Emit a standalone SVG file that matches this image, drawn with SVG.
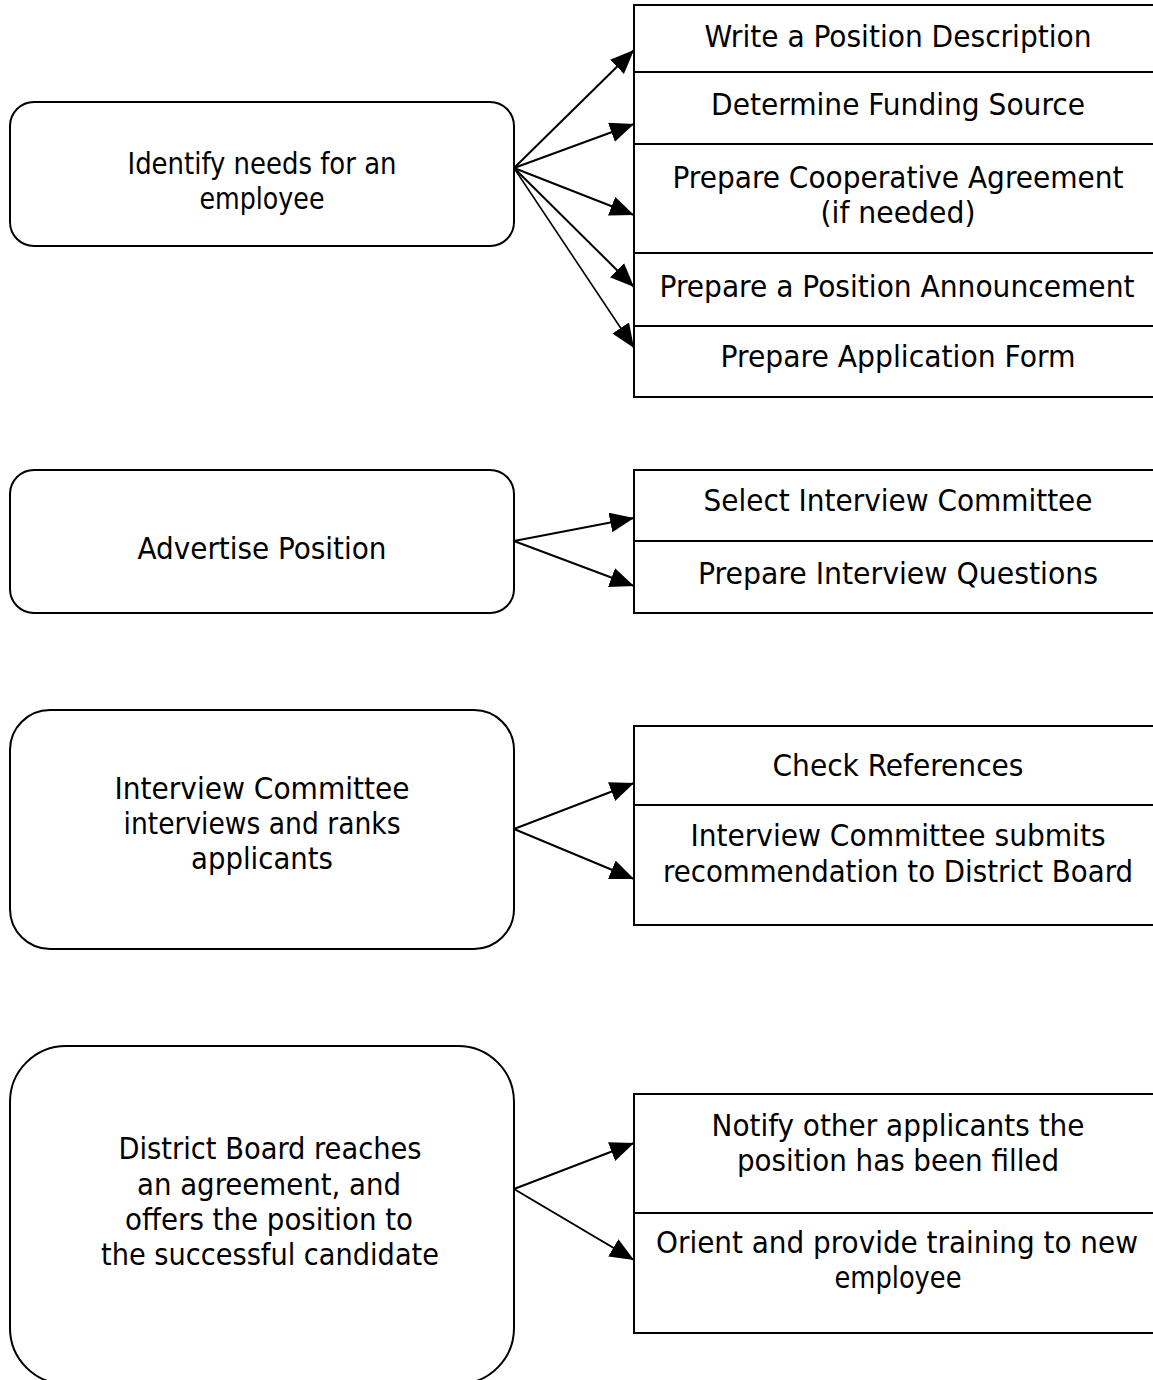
<svg xmlns="http://www.w3.org/2000/svg" width="1153" height="1380" viewBox="0 0 1153 1380">
<style>
.box{fill:#fff;stroke:#000;stroke-width:2}
.div{stroke:#000;stroke-width:2}
.t{font-family:"DejaVu Sans Condensed","DejaVu Sans","Noto Sans",sans-serif;font-size:30px;fill:#000;text-anchor:middle}
.c{stroke:#000;stroke-width:2;fill:none;marker-end:url(#ah)}
</style>
<defs>
<marker id="ah" markerUnits="userSpaceOnUse" markerWidth="26" markerHeight="22" refX="24" refY="10" orient="auto">
<path d="M0,0 L24,10 L0,20 Z" fill="#000"/>
</marker>
</defs>
<rect width="1153" height="1380" fill="#fff"/>

<g id="n1">
<rect class="box" x="10" y="102" width="504" height="144" rx="24" ry="24"/>
<text class="t" x="262" y="174" textLength="269" lengthAdjust="spacingAndGlyphs">Identify needs for an</text>
<text class="t" x="262" y="209" textLength="125" lengthAdjust="spacingAndGlyphs">employee</text>
</g>
<g id="n1r">
<path class="box" d="M1153,5 H634 V397 H1153"/>
<line class="div" x1="634" y1="72" x2="1153" y2="72"/>
<line class="div" x1="634" y1="144" x2="1153" y2="144"/>
<line class="div" x1="634" y1="253" x2="1153" y2="253"/>
<line class="div" x1="634" y1="326" x2="1153" y2="326"/>
<text class="t" x="898" y="47" textLength="387" lengthAdjust="spacingAndGlyphs">Write a Position Description</text>
<text class="t" x="898" y="115" textLength="374" lengthAdjust="spacingAndGlyphs">Determine Funding Source</text>
<text class="t" x="898" y="188" textLength="451" lengthAdjust="spacingAndGlyphs">Prepare Cooperative Agreement</text>
<text class="t" x="898" y="223" textLength="155" lengthAdjust="spacingAndGlyphs">(if needed)</text>
<text class="t" x="897" y="297" textLength="475" lengthAdjust="spacingAndGlyphs">Prepare a Position Announcement</text>
<text class="t" x="898" y="367" textLength="355" lengthAdjust="spacingAndGlyphs">Prepare Application Form</text>
</g>

<g id="n2">
<rect class="box" x="10" y="470" width="504" height="143" rx="24" ry="24"/>
<text class="t" x="262" y="559" textLength="249" lengthAdjust="spacingAndGlyphs">Advertise Position</text>
</g>
<g id="n2r">
<path class="box" d="M1153,470 H634 V613 H1153"/>
<line class="div" x1="634" y1="541" x2="1153" y2="541"/>
<text class="t" x="898" y="511" textLength="389" lengthAdjust="spacingAndGlyphs">Select Interview Committee</text>
<text class="t" x="898" y="584" textLength="400" lengthAdjust="spacingAndGlyphs">Prepare Interview Questions</text>
</g>

<g id="n3">
<rect class="box" x="10" y="710" width="504" height="239" rx="40" ry="40"/>
<text class="t" x="262" y="799" textLength="295" lengthAdjust="spacingAndGlyphs">Interview Committee</text>
<text class="t" x="262" y="834" textLength="277" lengthAdjust="spacingAndGlyphs">interviews and ranks</text>
<text class="t" x="262" y="869" textLength="142" lengthAdjust="spacingAndGlyphs">applicants</text>
</g>
<g id="n3r">
<path class="box" d="M1153,726 H634 V925 H1153"/>
<line class="div" x1="634" y1="805" x2="1153" y2="805"/>
<text class="t" x="898" y="776" textLength="251" lengthAdjust="spacingAndGlyphs">Check References</text>
<text class="t" x="898" y="846" textLength="415" lengthAdjust="spacingAndGlyphs">Interview Committee submits</text>
<text class="t" x="898" y="882" textLength="470" lengthAdjust="spacingAndGlyphs">recommendation to District Board</text>
</g>

<g id="n4">
<rect class="box" x="10" y="1046" width="504" height="338" rx="56" ry="56"/>
<text class="t" x="270" y="1159" textLength="303" lengthAdjust="spacingAndGlyphs">District Board reaches</text>
<text class="t" x="269" y="1195" textLength="264" lengthAdjust="spacingAndGlyphs">an agreement, and</text>
<text class="t" x="269" y="1230" textLength="288" lengthAdjust="spacingAndGlyphs">offers the position to</text>
<text class="t" x="270" y="1265" textLength="338" lengthAdjust="spacingAndGlyphs">the successful candidate</text>
</g>
<g id="n4r">
<path class="box" d="M1153,1094 H634 V1333 H1153"/>
<line class="div" x1="634" y1="1213" x2="1153" y2="1213"/>
<text class="t" x="898" y="1136" textLength="373" lengthAdjust="spacingAndGlyphs">Notify other applicants the</text>
<text class="t" x="898" y="1171" textLength="322" lengthAdjust="spacingAndGlyphs">position has been filled</text>
<text class="t" x="897" y="1253" textLength="482" lengthAdjust="spacingAndGlyphs">Orient and provide training to new</text>
<text class="t" x="898" y="1288" textLength="127" lengthAdjust="spacingAndGlyphs">employee</text>
</g>

<g id="connectors">
<line class="c" x1="514" y1="168" x2="634" y2="50"/>
<line class="c" x1="514" y1="168" x2="634" y2="124"/>
<line class="c" x1="514" y1="168" x2="634" y2="215"/>
<line class="c" x1="514" y1="168" x2="634" y2="287"/>
<line class="c" x1="514" y1="168" x2="634" y2="348" style="stroke-width:1.6"/>
<line class="c" x1="514" y1="541" x2="634" y2="518"/>
<line class="c" x1="514" y1="541" x2="634" y2="586"/>
<line class="c" x1="514" y1="829" x2="634" y2="783"/>
<line class="c" x1="514" y1="829" x2="634" y2="879"/>
<line class="c" x1="514" y1="1189" x2="634" y2="1143"/>
<line class="c" x1="514" y1="1189" x2="634" y2="1260"/>
</g>
</svg>
